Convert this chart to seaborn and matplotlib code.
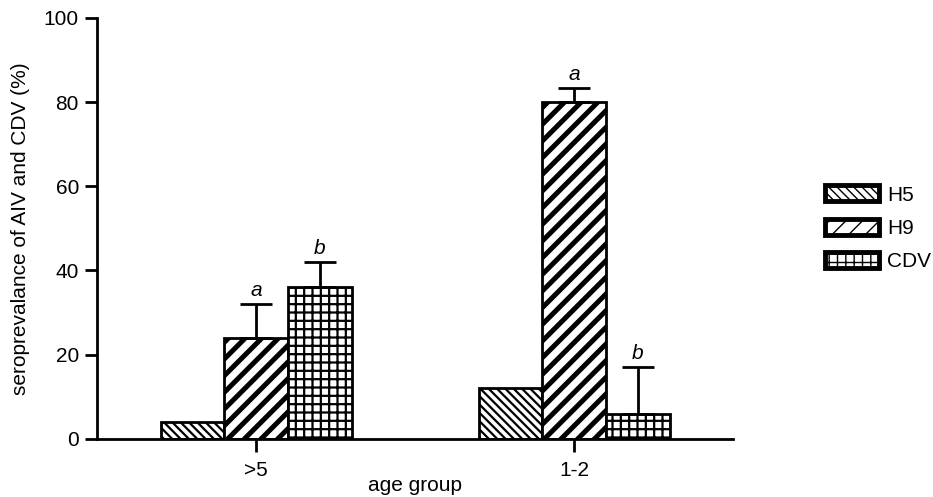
import matplotlib
matplotlib.use("Agg")
import matplotlib.pyplot as plt
import seaborn as sns
import pandas as pd
from matplotlib.patches import Patch

groups = [">5", "1-2"]
series = ["H5", "H9", "CDV"]
h5 = [4, 12]
h9 = [24, 80]
cdv = [36, 6]
h5_err = [0, 0]
h9_err = [8, 3.3]
cdv_err = [6, 11]
letters = {"H9": ["a", "a"], "CDV": ["b", "b"]}

rows = []
for s, vals, errs in [("H5", h5, h5_err), ("H9", h9, h9_err), ("CDV", cdv, cdv_err)]:
    for g, v, e in zip(groups, vals, errs):
        rows.append({"group": g, "series": s, "value": v, "err": e})
df = pd.DataFrame(rows)

sns.set_style("ticks")
plt.rcParams['font.family'] = ['Liberation Sans', 'DejaVu Sans']
for k in ["text.color", "axes.labelcolor", "xtick.color", "ytick.color", "axes.edgecolor"]:
    plt.rcParams[k] = "black"

FS = 15

fig = plt.figure(figsize=(9.33, 4.97), dpi=100)
ax = fig.add_axes([0.104, 0.117, 0.682, 0.847])

sns.barplot(data=df, x="group", y="value", hue="series", order=groups,
            hue_order=series, palette=["white"] * 3, edgecolor="black",
            linewidth=2, width=0.6, errorbar=None, ax=ax, legend=False)

hatches = {"H5": "\\\\\\\\", "H9": "//", "CDV": "++"}
hlw = {"H5": 1.6, "H9": 3.6, "CDV": 1.6}

for i, s in enumerate(series):
    cont = ax.containers[i]
    sub = df[df.series == s].set_index("group").loc[groups]
    for j, bar in enumerate(cont):
        bar.set_hatch(hatches[s])
        if hasattr(bar, "set_hatch_linewidth"):
            bar.set_hatch_linewidth(hlw[s])
        e = sub["err"].iloc[j]
        v = sub["value"].iloc[j]
        xc = bar.get_x() + bar.get_width() / 2
        if e > 0:
            ax.errorbar([xc], [v], yerr=[[0], [e]], fmt="none", ecolor="black",
                        elinewidth=2, capsize=11.5, capthick=2)
        if s in letters:
            ax.text(xc, v + e + 0.9, letters[s][j], ha="center", va="bottom",
                    fontsize=FS, style="italic")

ax.set_xlim(-0.5, 1.5)
ax.set_ylim(0, 100)
ax.set_yticks([0, 20, 40, 60, 80, 100])
ax.set_xlabel("age group", fontsize=FS, labelpad=-3)
ax.set_ylabel("seroprevalance of AIV and CDV (%)", fontsize=FS, labelpad=10)
ax.tick_params(axis="both", labelsize=FS, width=2, length=9, direction="out")
ax.tick_params(axis="x", pad=7)
ax.tick_params(axis="y", pad=4)
for sp in ["left", "bottom"]:
    ax.spines[sp].set_linewidth(2)
sns.despine(ax=ax)

handles = []
for s in series:
    p = Patch(facecolor="white", edgecolor="black", hatch=hatches[s], linewidth=3.5, label=s)
    if hasattr(p, "set_hatch_linewidth"):
        p.set_hatch_linewidth(hlw[s])
    handles.append(p)
fig.legend(handles=handles, loc="upper left", bbox_to_anchor=(0.884, 0.627),
           frameon=False, fontsize=FS, handlelength=2.6, handleheight=0.8,
           handletextpad=0.4, labelspacing=0.68, borderpad=0.0, borderaxespad=0.0)

fig.savefig("out.png", dpi=100)
